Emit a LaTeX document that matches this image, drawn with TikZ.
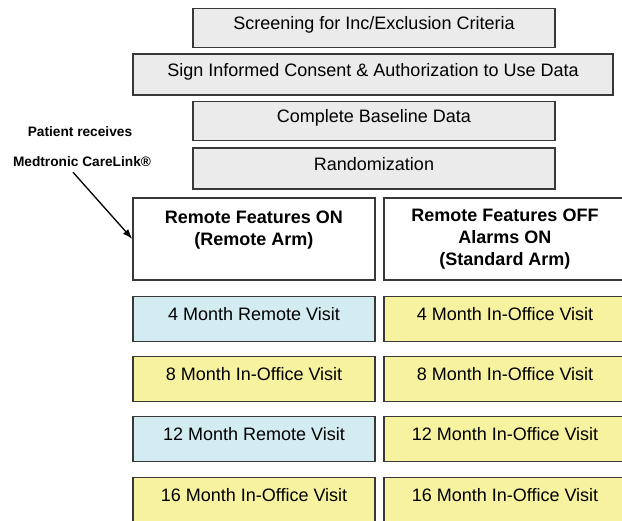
\documentclass[tikz,border=0pt]{standalone}
\usepackage{fontspec}
\setmainfont{Liberation Sans}
\usepackage{tikz}
\usetikzlibrary{positioning}
\usetikzlibrary{arrows.meta}

\definecolor{boxgray}{HTML}{EBEBEB}
\definecolor{remoteblue}{HTML}{D3ECF2}
\definecolor{officeyellow}{HTML}{F7F29F}
\definecolor{edgegray}{HTML}{383838}

\begin{document}
\begin{tikzpicture}[x=1pt,y=-1pt,
    stage/.style={draw=edgegray,line width=1.3pt,fill=boxgray,minimum width=362pt,minimum height=39pt,
        font=\fontsize{18}{22}\selectfont,inner sep=0pt,text depth=10pt},
    arm/.style={draw=edgegray,line width=1.3pt,fill=white,minimum width=242pt,minimum height=82pt,
        font=\fontsize{18}{22}\selectfont\bfseries,align=center,inner sep=0pt},
    visit/.style={draw=edgegray,line width=1.3pt,minimum width=242pt,minimum height=45pt,
        font=\fontsize{18}{22}\selectfont,inner sep=0pt,text depth=10pt},
    remote/.style={visit,fill=remoteblue},
    office/.style={visit,fill=officeyellow},
    note/.style={font=\fontsize{13.7}{16}\selectfont\bfseries,inner sep=0pt}]
    \useasboundingbox (0,0) rectangle (622,521); % edit here for the page size
    % steps before randomization
    \node[stage] (screen) at (374,28) {Screening for Inc/Exclusion Criteria};
    \node[stage,minimum width=480pt,minimum height=41pt] (consent) at (373,74.5) {Sign Informed Consent \& Authorization to Use Data};
    \node[stage] (baseline) at (374,121) {Complete Baseline Data};
    \node[stage,minimum height=41pt] (random) at (374,168.5) {Randomization};
    % the two arms
    \node[arm] (armon) at (254,239) {Remote Features ON\\(Remote Arm)\\\mbox{}};
    \node[arm] (armoff) at (505,239) {Remote Features OFF\\Alarms ON\\(Standard Arm)};
    % follow-up visits
    \node[remote] (on4) at (254,319) {4 Month Remote Visit};
    \node[office] (off4) at (505,319) {4 Month In-Office Visit};
    \node[office] (on8) at (254,379) {8 Month In-Office Visit};
    \node[office] (off8) at (505,379) {8 Month In-Office Visit};
    \node[remote] (on12) at (254,439) {12 Month Remote Visit};
    \node[office] (off12) at (505,439) {12 Month In-Office Visit};
    \node[office] (on16) at (254,500) {16 Month In-Office Visit};
    \node[office] (off16) at (505,500) {16 Month In-Office Visit};
    % CareLink note
    \node[note] (patient) at (80,132) {Patient receives};
    \node[note] (carelink) at (82,162) {Medtronic CareLink®};
    \draw[-{Latex[length=10pt,width=7pt]},line width=1.3pt] ([xshift=-9pt,yshift=-5pt]carelink.south) -- (armon.west);
\end{tikzpicture}
\end{document}
